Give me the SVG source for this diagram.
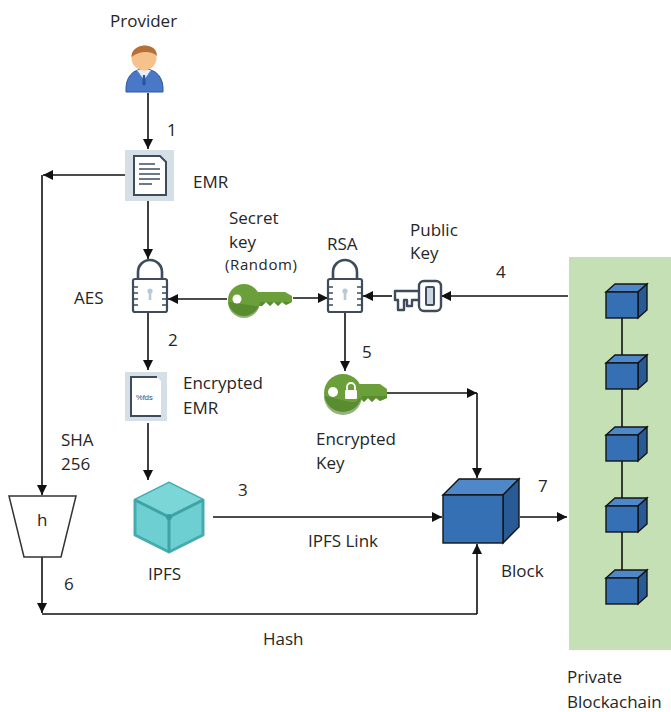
<svg xmlns="http://www.w3.org/2000/svg" width="671" height="712" viewBox="0 0 671 712">
  <style>
    .t { font-family: "Open Sans", "Liberation Sans", sans-serif; font-size: 17px; fill: #262626; }
    .s { font-size: 15px; letter-spacing: 0.6px; }
    .c { stroke: #111; stroke-width: 1.6; fill: none; }
    .lock { stroke: #3d4b5c; stroke-width: 2.2; fill: #fff; }
    .shackle { stroke: #3d4b5c; stroke-width: 2.6; fill: none; }
    .rib { stroke: #3d4b5c; stroke-width: 1.6; }
    .cube-f { fill: #3570b5; stroke: #141414; stroke-width: 1.4; }
    .cube-t { fill: #4f88c9; stroke: #141414; stroke-width: 1.4; }
    .cube-r { fill: #285a96; stroke: #141414; stroke-width: 1.4; }
  </style>
  <defs>
    <marker id="arr" viewBox="0 0 10 10" refX="10" refY="5" markerWidth="11" markerHeight="10" markerUnits="userSpaceOnUse" orient="auto">
      <path d="M0,0 L10,5 L0,10 Z" fill="#111"/>
    </marker>
    <g id="lockIcon">
      <path class="shackle" d="M-12,20 V12 A12,12 0 0 1 12,12 V20"/>
      <rect class="lock" x="-17" y="19" width="34" height="33" rx="2"/>
      <path class="rib" d="M-17,27 h5 M-17,33 h5 M-17,39 h5 M-17,45 h5 M17,27 h-5 M17,33 h-5 M17,39 h-5 M17,45 h-5"/>
      <circle cx="0" cy="31" r="2.6" fill="#b9cad6"/>
      <rect x="-1.3" y="31" width="2.6" height="9" fill="#b9cad6"/>
    </g>
    <g id="smallCube">
      <polygon class="cube-t" points="0,0 9,-8 41,-8 32,0"/>
      <polygon class="cube-r" points="32,0 41,-8 41,18 32,26"/>
      <rect class="cube-f" x="0" y="0" width="32" height="26"/>
    </g>
  </defs>

  <!-- blockchain panel -->
  <rect x="569" y="257" width="102" height="393" fill="#c5e0b4"/>

  <!-- connectors -->
  <g id="connectors">
    <line class="c" x1="148" y1="93" x2="148" y2="149" marker-end="url(#arr)"/>
    <line class="c" x1="125" y1="175" x2="43" y2="175" marker-end="url(#arr)"/>
    <line class="c" x1="42" y1="175" x2="42" y2="495" marker-end="url(#arr)"/>
    <line class="c" x1="148" y1="201" x2="148" y2="259" marker-end="url(#arr)"/>
    <line class="c" x1="227" y1="299" x2="168" y2="299" marker-end="url(#arr)"/>
    <line class="c" x1="293" y1="298" x2="328" y2="298" marker-end="url(#arr)"/>
    <line class="c" x1="568" y1="296" x2="441" y2="296" marker-end="url(#arr)"/>
    <line class="c" x1="392" y1="296" x2="363" y2="296" marker-end="url(#arr)"/>
    <line class="c" x1="148" y1="313" x2="148" y2="370" marker-end="url(#arr)"/>
    <line class="c" x1="345" y1="313" x2="345" y2="371" marker-end="url(#arr)"/>
    <line class="c" x1="148" y1="423" x2="148" y2="480" marker-end="url(#arr)"/>
    <line class="c" x1="213" y1="517" x2="442" y2="517" marker-end="url(#arr)"/>
    <line class="c" x1="387" y1="393" x2="477" y2="393" marker-end="url(#arr)"/>
    <line class="c" x1="477" y1="393" x2="477" y2="478" marker-end="url(#arr)"/>
    <line class="c" x1="42" y1="557" x2="42" y2="613" marker-end="url(#arr)"/>
    <line class="c" x1="42" y1="614" x2="477" y2="614"/>
    <line class="c" x1="477" y1="614" x2="477" y2="544" marker-end="url(#arr)"/>
    <line class="c" x1="520" y1="517" x2="567" y2="517" marker-end="url(#arr)"/>
    <!-- chain links -->
    <path class="c" d="M622,318 V363 M622,389 V435 M622,461 V506 M622,532 V578"/>
  </g>

  <!-- provider -->
  <g id="provider">
    <text class="t" x="110" y="27">Provider</text>
    <path d="M126,92 C125,77 133,69 144,69 C156,69 164,77 163,92 Z" fill="#4a78c8" stroke="#2f56a0" stroke-width="1"/>
    <path d="M137,70 L144,80 L151,70 Z" fill="#e8eef8"/>
    <path d="M143,75 L145,75 L146,84 L144,86 L142,84 Z" fill="#2f56a0"/>
    <circle cx="144" cy="58" r="12.5" fill="#f5c28c"/>
    <path d="M131.5,57 C131,43 157,41 157,56 C152,51 140,50 131.5,57 Z" fill="#b5703a"/>
  </g>

  <g id="n1"><text class="t" x="167" y="136">1</text></g>

  <!-- EMR document -->
  <g id="emr">
    <rect x="125" y="150" width="49" height="51" fill="#d5e0e6"/>
    <path d="M134,156 H160 L166,162 V195 H134 Z" fill="#fff" stroke="#3d4b5c" stroke-width="2"/>
    <path d="M139,164 H155 M139,169 H160 M139,174 H160 M139,179 H160 M139,184 H152" stroke="#6b7a89" stroke-width="2.2"/>
    <text class="t" x="193" y="188">EMR</text>
  </g>

  <!-- AES lock -->
  <g id="aes">
    <use href="#lockIcon" x="150" y="260"/>
    <text class="t" x="74" y="304">AES</text>
  </g>

  <!-- secret key -->
  <g id="secret-key">
    <text class="t" x="229" y="224">Secret</text>
    <text class="t" x="229" y="248">key</text>
    <text class="t s" x="225" y="270">(Random)</text>
    <path d="M252,292 H285 L292,296 L292,302 L286,305 L282,302 L278,306 L274,302 L270,306 L266,302 L262,306 L256,306 Z" fill="#6a9f3a"/>
    <circle cx="244" cy="300" r="16" fill="#6a9f3a"/>
    <path d="M228,302 A16,16 0 0 0 260,302 H292 L286,305 L282,302 L278,306 L274,302 L270,306 L266,302 L262,306 L256,306 Z" fill="#4f8127" opacity="0.6"/>
    <circle cx="237" cy="299" r="4.5" fill="#fff"/>
  </g>

  <!-- RSA lock -->
  <g id="rsa">
    <text class="t" x="327" y="250">RSA</text>
    <use href="#lockIcon" x="345" y="260"/>
  </g>

  <!-- public key -->
  <g id="public-key">
    <text class="t" x="410" y="236">Public</text>
    <text class="t" x="410" y="259">Key</text>
    <path d="M420,291 H395 V300 H398 V310 H404 V300 H407 V306 H412 V300 H420" fill="#fff" stroke="#3d4b5c" stroke-width="2.4" stroke-linejoin="round"/>
    <rect x="419" y="281" width="22" height="30" rx="5" fill="#fff" stroke="#3d4b5c" stroke-width="2.4"/>
    <rect x="426" y="287" width="8" height="18" rx="1" fill="#c9d7e0" stroke="#3d4b5c" stroke-width="2"/>
  </g>

  <g id="n4"><text class="t" x="496" y="278">4</text></g>
  <g id="n2"><text class="t" x="168" y="346">2</text></g>
  <g id="n5"><text class="t" x="362" y="358">5</text></g>

  <!-- encrypted EMR -->
  <g id="encrypted-emr">
    <rect x="125" y="372" width="42" height="49" fill="#d5e0e6"/>
    <path d="M131,377 H157 L161,381 V416 H131" fill="#fff" stroke="none"/>
    <path d="M157,377 H131 V416 H161" fill="none" stroke="#3d4b5c" stroke-width="2"/>
    <text x="136" y="400" font-family="Liberation Sans, sans-serif" font-size="7.5" fill="#3d4b5c">%fds</text>
    <text class="t" x="183" y="389">Encrypted</text>
    <text class="t" x="183" y="414">EMR</text>
  </g>

  <!-- encrypted key -->
  <g id="encrypted-key">
    <path d="M350,384 H380 L387,389 L387,398 L380,401 L376,398 L372,402 L368,398 L364,402 L360,398 L356,402 L350,402 Z" fill="#6a9f3a"/>
    <circle cx="343" cy="393" r="19" fill="#6a9f3a"/>
    <path d="M324,396 A19,19 0 0 0 362,396 H387 V398 L380,401 L376,398 L372,402 L368,398 L364,402 L360,398 L356,402 L350,402 Z" fill="#4f8127" opacity="0.6"/>
    <circle cx="333" cy="392" r="5" fill="#fff"/>
    <path d="M347,391 V387 A4,4 0 0 1 355,387 V391" fill="none" stroke="#fff" stroke-width="1.8"/>
    <rect x="345" y="390" width="12" height="9" rx="1" fill="#fff"/>
    <text class="t" x="316" y="445">Encrypted</text>
    <text class="t" x="316" y="469">Key</text>
  </g>

  <!-- SHA hash -->
  <g id="sha">
    <text class="t" x="61" y="446">SHA</text>
    <text class="t" x="61" y="470">256</text>
    <polygon points="9,496 76,496 61,557 24,557" fill="#fff" stroke="#333" stroke-width="1.5"/>
    <text class="t" x="37" y="526">h</text>
  </g>

  <g id="n6"><text class="t" x="64" y="590">6</text></g>

  <!-- IPFS -->
  <g id="ipfs">
    <polygon points="169,483 203,500 203,535 169,552 135,535 135,500" fill="#6dcfd2" stroke="#44acaf" stroke-width="3" stroke-linejoin="round"/>
    <polygon points="169,483 203,500 169,517 135,500" fill="#7bd6d8"/>
    <path d="M135,500 L169,517 L203,500 M169,517 V552" fill="none" stroke="#3fa3a6" stroke-width="3"/>
    <circle cx="169" cy="517" r="3" fill="#3a9a9d"/>
    <text class="t" x="148" y="580">IPFS</text>
  </g>

  <g id="n3"><text class="t" x="238" y="496">3</text></g>
  <g id="ipfs-link"><text class="t" x="308" y="547">IPFS Link</text></g>

  <!-- block -->
  <g id="block">
    <polygon class="cube-t" points="443,495 459,479 519,479 503,495"/>
    <polygon class="cube-r" points="503,495 519,479 519,527 503,543"/>
    <rect class="cube-f" x="443" y="495" width="60" height="48"/>
    <text class="t" x="501" y="577">Block</text>
  </g>

  <g id="n7"><text class="t" x="538" y="492">7</text></g>
  <g id="hash"><text class="t" x="263" y="645">Hash</text></g>

  <!-- private blockchain -->
  <g id="blockchain">
    <use href="#smallCube" x="606" y="292"/>
    <use href="#smallCube" x="606" y="363"/>
    <use href="#smallCube" x="606" y="435"/>
    <use href="#smallCube" x="606" y="506"/>
    <use href="#smallCube" x="606" y="578"/>
    <text class="t" x="567" y="683">Private</text>
    <text class="t" x="567" y="708">Blockachain</text>
  </g>
</svg>
